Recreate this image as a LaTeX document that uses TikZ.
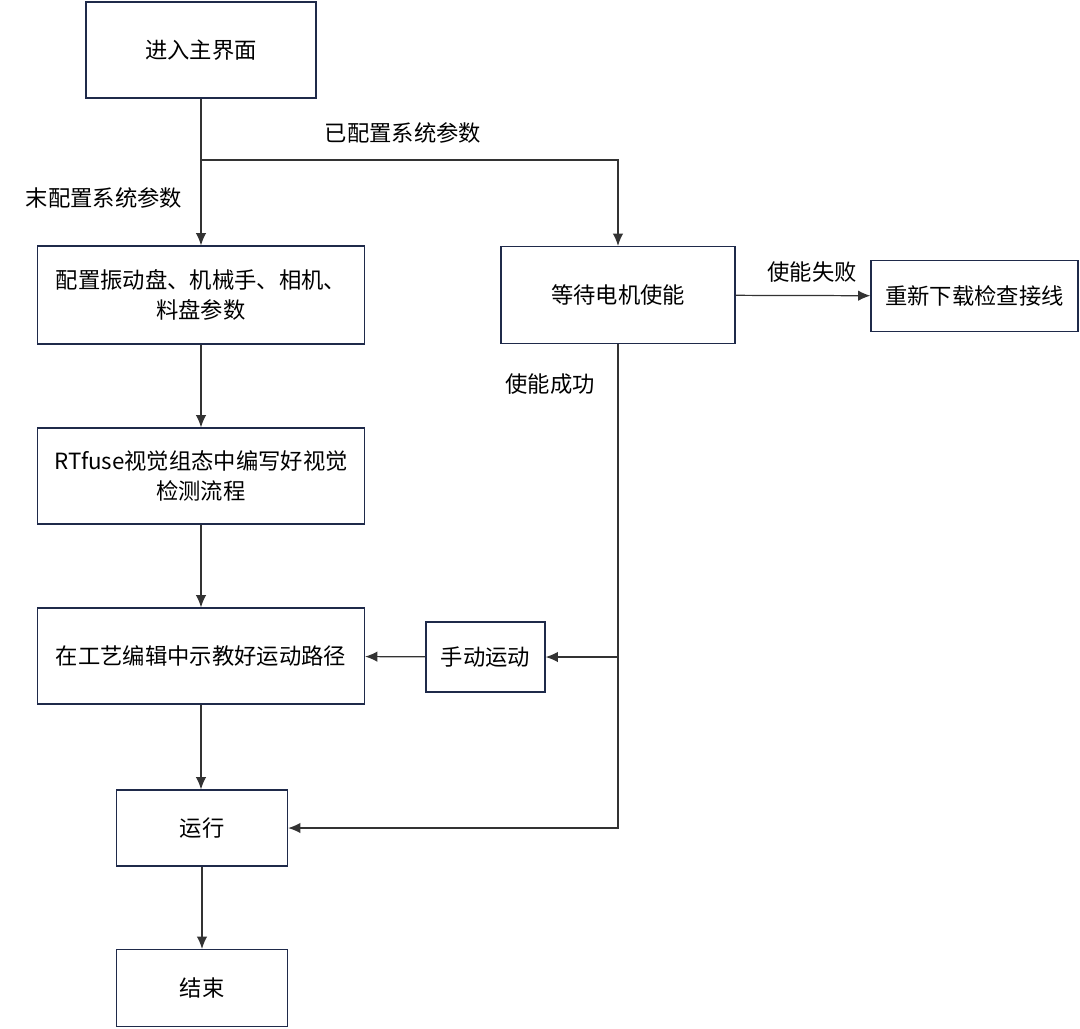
\documentclass[tikz,border=0pt]{standalone}
\usepackage{fontspec}
\usepackage{tikz}
\usetikzlibrary{arrows.meta}
\newfontfamily\cjk{Noto Sans CJK SC}
\definecolor{boxcol}{HTML}{1F2A4A}
\definecolor{linecol}{HTML}{333333}

\tikzset{
  box/.style={draw=boxcol, line width=0.8pt, inner sep=0pt, align=center,
    font=\cjk\fontsize{12.7}{17}\selectfont},
  lbl/.style={inner sep=0pt, font=\cjk\fontsize{12.7}{17}\selectfont},
  link/.style={draw=linecol, line width=0.7pt},
  arrow/.style={link, -{Latex[length=7pt,width=6pt]}}
}

\begin{document}
\begin{tikzpicture}[x=0.02cm, y=-0.02cm]
\useasboundingbox (0,0) rectangle (1080,1029);
%\draw[help lines,step=50] (0,0) grid (1080,1029);

% left column
\node[box, minimum width=4.6cm, minimum height=1.92cm] (main) at (201,50) {进入主界面};
\node[box, minimum width=6.54cm, minimum height=1.96cm] (config) at (201,295) {配置振动盘、机械手、相机、\\料盘参数};
\node[box, minimum width=6.54cm, minimum height=1.92cm] (rtfuse) at (201,476) {RTfuse视觉组态中编写好视觉\\检测流程};
\node[box, minimum width=6.54cm, minimum height=1.92cm] (path) at (201,656) {在工艺编辑中示教好运动路径};
\node[box, minimum width=3.42cm, minimum height=1.52cm] (run) at (202,828) {运行};
\node[box, minimum width=3.42cm, minimum height=1.54cm] (end) at (202,988) {结束};

% right side
\node[box, minimum width=4.68cm, minimum height=1.94cm] (wait) at (618,295) {等待电机使能};
\node[box, minimum width=4.14cm, minimum height=1.42cm] (retry) at (974.5,296) {重新下载检查接线};
\node[box, minimum width=2.38cm, minimum height=1.4cm] (manual) at (485.5,657) {手动运动};

% labels
\node[lbl] (lbldone) at (403,133) {已配置系统参数};
\node[lbl] (lblnone) at (104,198) {末配置系统参数};
\node[lbl] (lblfail) at (812,272) {使能失败};
\node[lbl] (lblok) at (550,384) {使能成功};

% connectors
\coordinate (split) at (201,160);
\draw[link] (main) -- (split);
\draw[arrow] (split) -- (config);
\draw[arrow] (split) -| (wait);
\draw[arrow] (config) -- (rtfuse);
\draw[arrow] (rtfuse) -- (path);
\draw[arrow] (path.south) -- (path.south |- run.north);
\draw[arrow] (run.south) -- (run.south |- end.north);
\draw[arrow] (wait) -- (retry);
\draw[arrow] (wait.south) |- (run.east);
\draw[arrow] (wait.south |- manual) -- (manual);
\draw[arrow] (manual) -- (path);
\end{tikzpicture}
\end{document}
